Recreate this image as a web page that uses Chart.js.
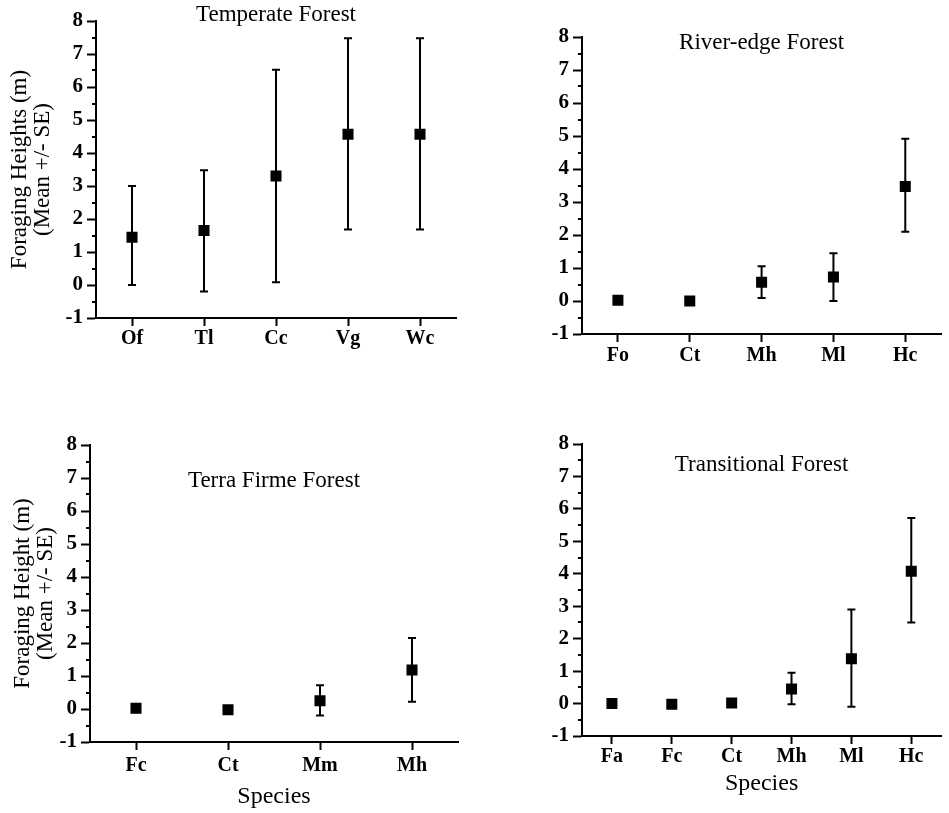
<!DOCTYPE html>
<html>
<head>
<meta charset="utf-8">
<script src="https://cdn.jsdelivr.net/npm/chart.js@4.4.1/dist/chart.umd.min.js"></script>
<style>
    body { margin: 0; background: #fff; width: 949px; height: 813px; position: relative; overflow: hidden; }
    canvas { position: absolute; }
</style>
</head>
<body>
<canvas id="chart_temperate" style="left:0;top:0" width="475" height="400"></canvas>
<canvas id="chart_river" style="left:475px;top:0" width="474" height="400"></canvas>
<canvas id="chart_terra" style="left:0;top:400px" width="475" height="413"></canvas>
<canvas id="chart_transitional" style="left:475px;top:400px" width="474" height="413"></canvas>
<script>
// Temperate Forest
const tempSpecies = ['Of', 'Tl', 'Cc', 'Vg', 'Wc'];
const tempMean = [1.45, 1.65, 3.3, 4.57, 4.57];
const tempLow = [0.0, -0.2, 0.08, 1.68, 1.68];
const tempHigh = [3.0, 3.48, 6.52, 7.48, 7.48];

// River-edge Forest
const riverSpecies = ['Fo', 'Ct', 'Mh', 'Ml', 'Hc'];
const riverMean = [0.02, 0.0, 0.57, 0.73, 3.47];
const riverLow = [null, null, 0.09, 0.0, 2.1];
const riverHigh = [null, null, 1.05, 1.45, 4.92];

// Terra Firme Forest
const terraSpecies = ['Fc', 'Ct', 'Mm', 'Mh'];
const terraMean = [0.02, -0.02, 0.25, 1.18];
const terraLow = [null, null, -0.2, 0.22];
const terraHigh = [null, null, 0.72, 2.15];

// Transitional Forest
const transSpecies = ['Fa', 'Fc', 'Ct', 'Mh', 'Ml', 'Hc'];
const transMean = [0.0, -0.02, 0.02, 0.45, 1.38, 4.08];
const transLow = [null, null, null, -0.02, -0.1, 2.5];
const transHigh = [null, null, null, 0.95, 2.9, 5.72];

const yTicksMin = -1;
const yTicksMax = 8;

const SERIF = '"Liberation Serif", "Times New Roman", serif';
Chart.defaults.font.family = SERIF;
Chart.defaults.color = '#000';

// error bars with caps, drawn under the square markers
const errorBars = {
    id: 'errorBars',
    beforeDatasetsDraw(chart) {
        const { ctx, scales: { x, y } } = chart;
        const ds = chart.data.datasets[0];
        ctx.save();
        ctx.strokeStyle = '#000';
        ctx.lineWidth = 2;
        ds.errLow.forEach((lo, i) => {
            if (lo == null) return;
            const px = x.getPixelForValue(i);
            const y1 = y.getPixelForValue(lo);
            const y2 = y.getPixelForValue(ds.errHigh[i]);
            ctx.beginPath();
            ctx.moveTo(px, y1); ctx.lineTo(px, y2);
            ctx.moveTo(px - 4, y1); ctx.lineTo(px + 4, y1);
            ctx.moveTo(px - 4, y2); ctx.lineTo(px + 4, y2);
            ctx.stroke();
        });
        ctx.restore();
    }
};

// short minor ticks at the half units of the y axis
const minorTicks = {
    id: 'minorTicks',
    afterDraw(chart) {
        const { ctx, chartArea, scales: { y } } = chart;
        ctx.save();
        ctx.strokeStyle = '#000';
        ctx.lineWidth = 2;
        for (let v = yTicksMin + 0.5; v < yTicksMax; v += 1) {
            const py = Math.round(y.getPixelForValue(v));
            ctx.beginPath();
            ctx.moveTo(chartArea.left, py);
            ctx.lineTo(chartArea.left - 4, py);
            ctx.stroke();
        }
        ctx.restore();
    }
};

// panel title, placed by baseline
const panelTitle = {
    id: 'panelTitle',
    afterDraw(chart, args, opts) {
        const { ctx, chartArea } = chart;
        ctx.save();
        ctx.font = `23px ${SERIF}`;
        ctx.fillStyle = '#000';
        ctx.textAlign = 'center';
        ctx.textBaseline = 'alphabetic';
        ctx.fillText(opts.text, (chartArea.left + chartArea.right) / 2, opts.baseline);
        ctx.restore();
    }
};

function makePanel(id, labels, mean, low, high, cfg) {
    return new Chart(document.getElementById(id), {
        type: 'line',
        data: {
            labels,
            datasets: [{
                data: mean, errLow: low, errHigh: high,
                showLine: false, pointStyle: 'rect',
                pointRadius: 7.8, pointHoverRadius: 7.8,
                backgroundColor: '#000', borderColor: '#000', borderWidth: 0
            }]
        },
        options: {
            responsive: false, animation: false, devicePixelRatio: 1,
            layout: { padding: cfg.padding },
            plugins: {
                legend: { display: false }, tooltip: { enabled: false },
                panelTitle: { text: cfg.title, baseline: cfg.titleY }
            },
            scales: {
                x: {
                    type: 'category', offset: true,
                    grid: { drawOnChartArea: false, offset: false, tickLength: 8, tickWidth: 2, color: '#000' },
                    border: { color: '#000', width: 2 },
                    ticks: { font: { size: 20, weight: 'bold' }, padding: cfg.xPad, maxRotation: 0, autoSkip: false },
                    title: cfg.xTitle
                        ? { display: true, text: cfg.xTitle, font: { size: 24 }, padding: { top: 0, bottom: cfg.xTitlePad } }
                        : { display: false },
                    afterFit: s => { s.height = cfg.xH; }
                },
                y: {
                    min: yTicksMin, max: yTicksMax,
                    ticks: { stepSize: 1, font: { size: 21, weight: 'bold' }, padding: 4 },
                    grid: { drawOnChartArea: false, tickLength: 9, tickWidth: 2, color: '#000' },
                    border: { color: '#000', width: 2 },
                    title: cfg.yTitle
                        ? { display: true, text: cfg.yTitle, font: { size: 23, lineHeight: 1.0 }, padding: { top: cfg.yTitlePad, bottom: 0 } }
                        : { display: false },
                    afterFit: s => { s.width = cfg.yW; }
                }
            }
        },
        plugins: [errorBars, minorTicks, panelTitle]
    });
}

makePanel('chart_temperate', tempSpecies, tempMean, tempLow, tempHigh, {
    title: 'Temperate Forest', titleY: 21,
    padding: { top: 21, right: 19, bottom: 0, left: 0 },
    yW: 96, xH: 82, xPad: 1,
    yTitle: ['Foraging Heights (m)', '(Mean +/- SE)'], yTitlePad: 8.5
});
makePanel('chart_river', riverSpecies, riverMean, riverLow, riverHigh, {
    title: 'River-edge Forest', titleY: 49,
    padding: { top: 37, right: 0, bottom: 0, left: 0 },
    yW: 107, xH: 66, xPad: 2
});
makePanel('chart_terra', terraSpecies, terraMean, terraLow, terraHigh, {
    title: 'Terra Firme Forest', titleY: 87,
    padding: { top: 45, right: 17, bottom: 0, left: 0 },
    yW: 90, xH: 71, xPad: 4,
    xTitle: 'Species', xTitlePad: 1.5,
    yTitle: ['Foraging Height (m)', '(Mean +/- SE)'], yTitlePad: 11.5
});
makePanel('chart_transitional', transSpecies, transMean, transLow, transHigh, {
    title: 'Transitional Forest', titleY: 71,
    padding: { top: 44, right: 0, bottom: 0, left: 0 },
    yW: 107, xH: 77, xPad: 1,
    xTitle: 'Species', xTitlePad: 14.5
});
</script>
</body>
</html>
